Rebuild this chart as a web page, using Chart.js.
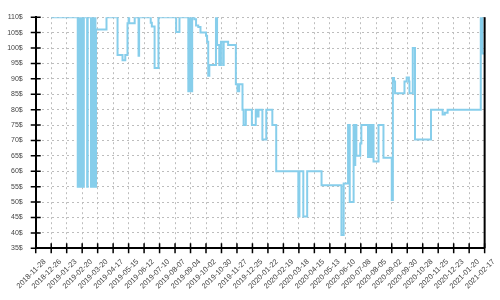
<!DOCTYPE html>
<html><head><meta charset="utf-8">
<script src="https://cdn.jsdelivr.net/npm/chart.js@4.4.0/dist/chart.umd.min.js"></script>
<style>html,body{margin:0;padding:0;background:#fff}</style>
</head><body>
<canvas id="c" width="500" height="300"></canvas>
<script>
// days since 2018-11-28 and the price that holds from that day on
const days = [0,
  48,49,50,51,52,53,54,55,56,57,58,59,
  65,66,
  72,73,74,75,76,77,78,79,80,81,
  100,120,129,134,138,140,141,151,158,159,180,182,187,194,226,232,
  248,249,250,251,252,253,254,255,
  259,262,266,270,280,282,284,286,298,300,304,307,311,312,320,334,337,340,
  346,348,352,363,370,373,375,382,389,400,407,447,449,456,463,489,525,529,
  537,540,547,549,550,552,559,561,
  573,574,575,576,577,578,579,580,581,582,
  583,592,601,616,618,620,622,639,643,647,648,654,658,687,708,712,717,777,780,784];
const prices = [110,
  55,110,55,110,55,110,55,110,55,110,55,110,
  55,110,
  55,110,55,110,55,110,55,110,55,106,
  110,97.7,96,97.7,108,110,108,110,97.5,110,108.2,107,93.5,110,105.2,110,
  86,110,86,110,86,110,86,110,
  109.3,107.3,106.8,105,104,102,91,94.5,110,101,94.5,102,94.5,102,101,88.2,86,88.2,
  80,75,80,75,80,77.8,80,70.3,80,75,60,45.3,60,45.3,60,55.5,39.3,56,
  75,50,75,62,75,65,69,75,
  64.6,75,64.6,75,64.6,75,64.6,75,64.6,75,
  63.2,75,64.4,50.7,90.3,89.1,85.3,89.1,90.4,89.1,85.3,100,70.3,80,78.4,79,80,110,98.2,98.2];

const xTickDays = [-28,0,28,56,84,112,140,168,196,224,252,280,308,336,364,392,420,448,476,504,532,560,588,616,644,672,700,728,756,784];
const xTickLabels = ['2018-11-28','2018-12-26','2019-01-23','2019-02-20','2019-03-20','2019-04-17','2019-05-15','2019-06-12','2019-07-10','2019-08-07','2019-09-04','2019-10-02','2019-10-30','2019-11-27','2019-12-25','2020-01-22','2020-02-19','2020-03-18','2020-04-15','2020-05-13','2020-06-10','2020-07-08','2020-08-05','2020-09-02','2020-09-30','2020-10-28','2020-11-25','2020-12-23','2021-01-20','2021-02-17'];
const yTickValues = [35,40,45,50,55,60,65,70,75,80,85,90,95,100,105,110];

const points = days.map((d, i) => ({x: d, y: prices[i]}));

const axisDecor = {
  id: 'axisDecor',
  afterDraw(chart) {
    const {ctx, chartArea: a, scales: {x, y}} = chart;
    ctx.save();
    ctx.strokeStyle = '#000';
    ctx.lineWidth = 1.5;
    ctx.beginPath();
    y.ticks.forEach(t => { const py = y.getPixelForValue(t.value); ctx.moveTo(a.left - 5, py); ctx.lineTo(a.left + 5, py); });
    x.ticks.forEach(t => { const px = x.getPixelForValue(t.value); ctx.moveTo(px, a.bottom - 5); ctx.lineTo(px, a.bottom + 5); });
    ctx.stroke();
    ctx.lineWidth = 2;
    ctx.beginPath(); ctx.moveTo(a.right, a.top); ctx.lineTo(a.right, a.bottom); ctx.stroke();
    ctx.restore();
  }
};

new Chart(document.getElementById('c'), {
  type: 'line',
  data: { datasets: [{
    data: points, borderColor: '#87CEEB', borderWidth: 2, pointRadius: 0,
    stepped: true, fill: false, tension: 0
  }]},
  options: {
    responsive: false, animation: false, devicePixelRatio: 1,
    layout: { padding: { left: 0, top: 15, right: 14.7, bottom: 0 } },
    plugins: { legend: { display: false }, tooltip: { enabled: false } },
    scales: {
      x: {
        type: 'linear', min: -28, max: 784,
        afterBuildTicks: s => { s.ticks = xTickDays.map(v => ({value: v})); },
        afterFit: s => { s.height = 51.7; },
        grid: { color: '#bdbdbd', lineWidth: 1, drawTicks: false },
        border: { display: true, color: '#000', width: 2, dash: [2, 3] },
        ticks: {
          autoSkip: false, maxRotation: 45, minRotation: 45, padding: 9, labelOffset: 9,
          color: '#444', font: { family: 'Liberation Sans', size: 7.5 },
          callback: (v, i) => xTickLabels[i]
        }
      },
      y: {
        type: 'linear', min: 35, max: 110,
        afterBuildTicks: s => { s.ticks = yTickValues.map(v => ({value: v})); },
        afterFit: s => { s.width = 34.3; },
        grid: { color: '#bdbdbd', lineWidth: 1, drawTicks: false },
        border: { display: true, color: '#000', width: 2, dash: [2, 3] },
        ticks: {
          padding: 13, color: '#444', font: { family: 'Liberation Sans', size: 7 },
          callback: v => v + '$'
        }
      }
    }
  },
  plugins: [axisDecor]
});
</script>
</body></html>
